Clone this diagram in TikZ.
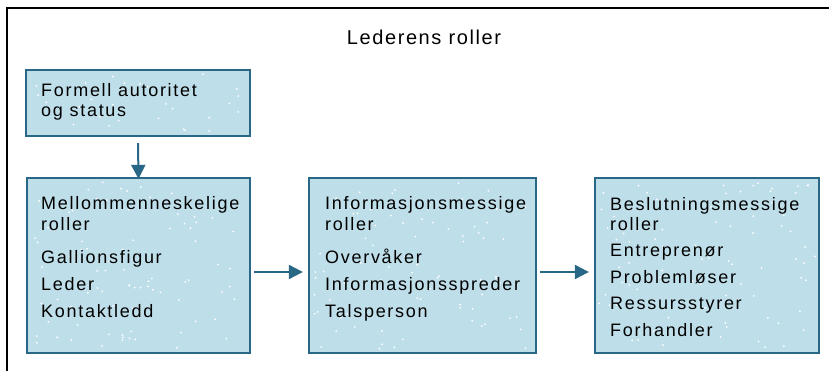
\documentclass[tikz,border=0pt]{standalone}
\usepackage{fontspec}
\setmainfont{Liberation Sans}
\usetikzlibrary{arrows.meta}
\definecolor{boxfill}{RGB}{190,222,233}
\definecolor{boxedge}{RGB}{40,104,134}
\newfontfamily\boxfont[LetterSpace=9.5]{Liberation Sans}
\newfontfamily\titlefont[LetterSpace=8]{Liberation Sans}
\tikzset{
  rolebox/.style={draw=boxedge, fill=boxfill, line width=2.3pt, inner sep=0pt},
  rolehead/.style={anchor=base west, inner sep=0pt, font=\boxfont\fontsize{18}{20}\selectfont},
  roleitem/.style={anchor=base west, inner sep=0pt, font=\boxfont\fontsize{18}{20}\selectfont},
  flow/.style={draw=boxedge, line width=2pt, -{Triangle[length=14pt,width=14pt]}},
}
\begin{document}
\begin{tikzpicture}[x=1pt,y=-1pt]
\useasboundingbox (0,0) rectangle (829,371);
\fill[white] (0,0) rectangle (829,371);
% outer frame (top and left edges)
\draw[black, line width=1.8pt] (7,371) -- (7,8) -- (829,8);

\node[anchor=base, inner sep=0pt, font=\titlefont\fontsize{20}{22}\selectfont] (title) at (424,45) {Lederens roller};

% boxes
\node[rolebox, minimum width=224pt, minimum height=66pt] (fa) at (138,103) {};
\node[rolebox, minimum width=223pt, minimum height=175pt] (mm) at (138.5,265.5) {};
\node[rolebox, minimum width=227pt, minimum height=175pt] (im) at (422.5,265.5) {};
\node[rolebox, minimum width=224pt, minimum height=175pt] (bm) at (707,265.5) {};

% white specks scattered over the boxes
\pgfmathsetseed{41}
\foreach \bx/\by/\bw/\bh/\n in {26/70/224/66/30, 27/178/223/175/85, 309/178/227/175/85, 595/178/224/175/85}{
  \foreach \k in {1,...,\n}{
    \pgfmathsetmacro{\sx}{\bx+4+rnd*(\bw-8)}
    \pgfmathsetmacro{\sy}{\by+4+rnd*(\bh-8)}
    \fill[white] (\sx,\sy) circle (1pt);
  }
}

% texts
\node[rolehead] (fa1) at (41,97) {Formell autoritet};
\node[rolehead] (fa2) at (41,117) {og status};

\node[rolehead] (mm1) at (41,210) {Mellommenneskelige};
\node[rolehead] (mm2) at (41,230) {roller};
\node[roleitem] (mm3) at (41,263) {Gallionsfigur};
\node[roleitem] (mm4) at (41,290) {Leder};
\node[roleitem] (mm5) at (41,317) {Kontaktledd};

\node[rolehead] (im1) at (325,210) {Informasjonsmessige};
\node[rolehead] (im2) at (325,230) {roller};
\node[roleitem] (im3) at (325,263) {Overvåker};
\node[roleitem] (im4) at (325,290) {Informasjonsspreder};
\node[roleitem] (im5) at (325,317) {Talsperson};

\node[rolehead] (bm1) at (610,211) {Beslutningsmessige};
\node[rolehead] (bm2) at (610,230) {roller};
\node[roleitem] (bm3) at (610,256) {Entreprenør};
\node[roleitem] (bm4) at (610,283) {Problemløser};
\node[roleitem] (bm5) at (610,309) {Ressursstyrer};
\node[roleitem] (bm6) at (610,336) {Forhandler};

% connectors
\draw[flow] ([yshift=-6pt]fa.south) -- ([yshift=-2pt]mm.north);
\draw[flow] ([xshift=3pt,yshift=-6.5pt]mm.east) -- ([xshift=-5pt,yshift=-6.5pt]im.west);
\draw[flow] ([xshift=3pt,yshift=-6.5pt]im.east) -- ([xshift=-5pt,yshift=-6.5pt]bm.west);
\end{tikzpicture}
\end{document}
